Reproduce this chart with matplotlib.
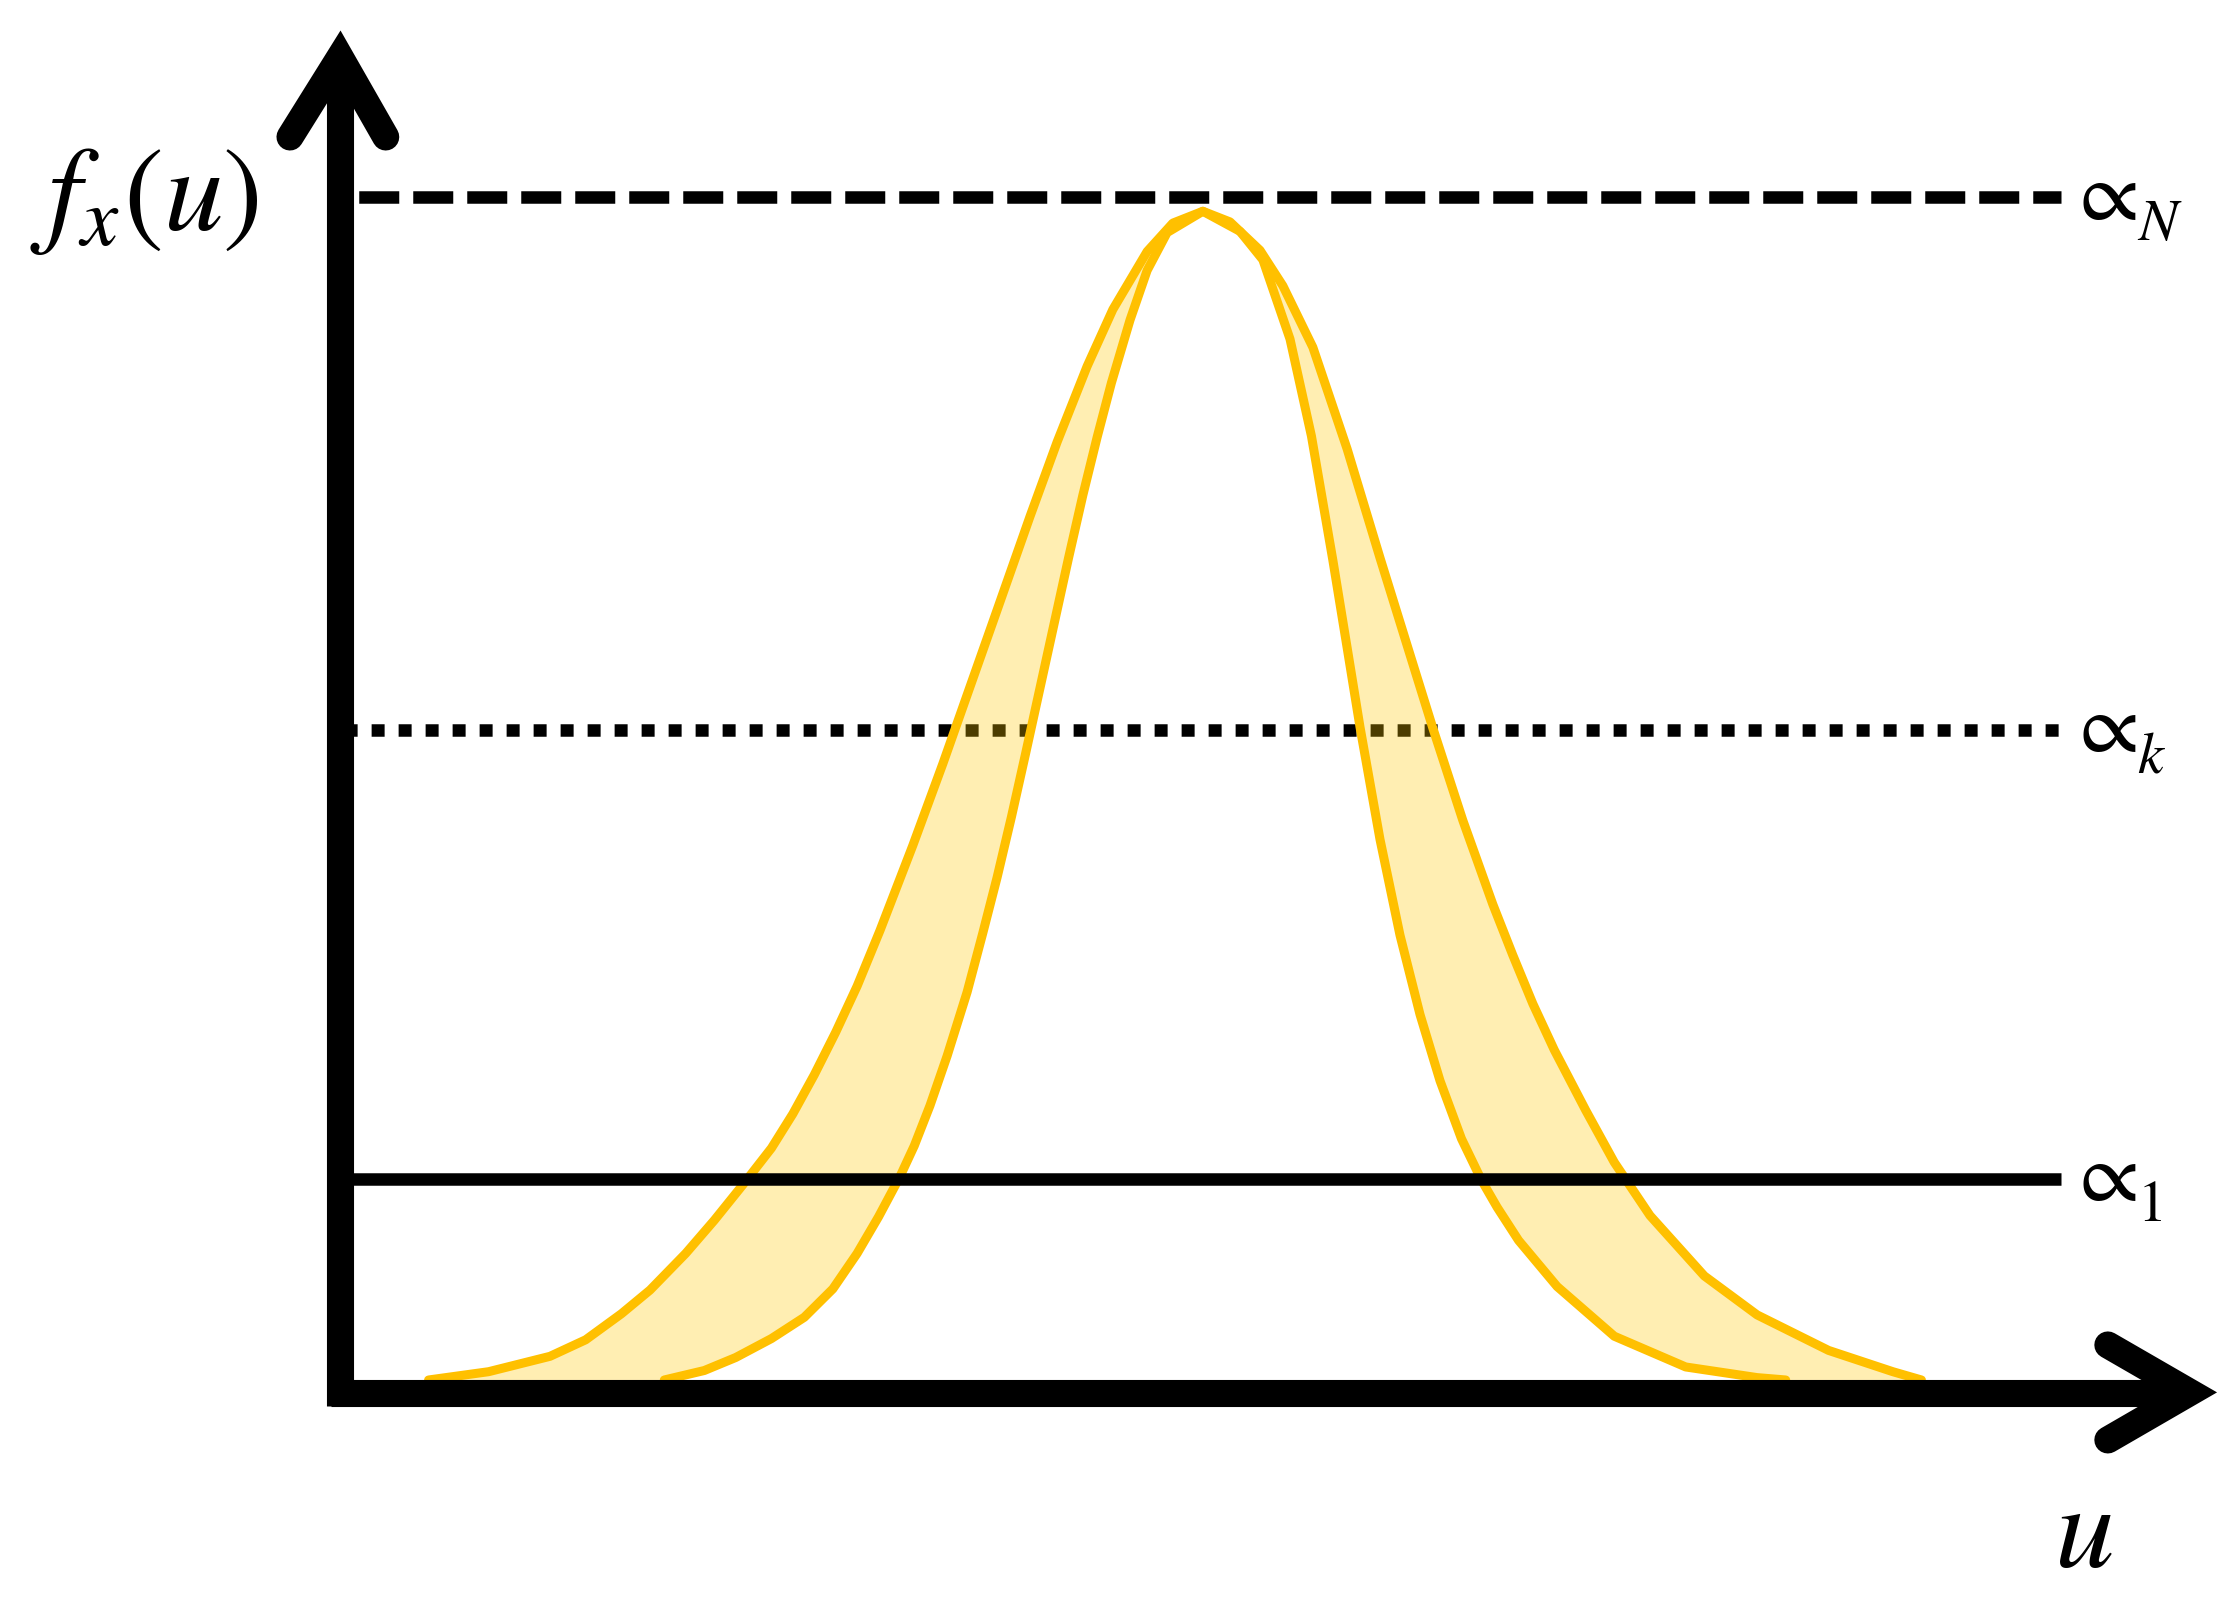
import matplotlib
matplotlib.use("Agg")
import matplotlib.pyplot as plt

plt.rcParams['mathtext.fontset'] = 'stix'

# ---- data ----
# wide density curve (u, f)
wide_u = [0.62, 1.04, 1.47, 1.72, 1.97, 2.17, 2.42, 2.62, 2.82, 3.02, 3.17, 3.32, 3.47,
          3.62, 3.78, 4.01, 4.22, 4.41, 4.60, 4.83, 5.02, 5.23, 5.41, 5.65, 5.83, 6.04,
          6.23, 6.44, 6.60, 6.81, 7.05, 7.28, 7.47, 7.65, 7.86, 8.07, 8.21, 8.35, 8.50,
          8.72, 8.92, 9.17, 9.55, 9.92, 10.42, 10.87, 11.07]
wide_f = [0.000, 0.007, 0.020, 0.034, 0.056, 0.076, 0.107, 0.135, 0.165, 0.196, 0.225, 0.258, 0.294,
          0.333, 0.380, 0.452, 0.521, 0.586, 0.651, 0.730, 0.793, 0.857, 0.905, 0.954, 0.978, 0.988,
          0.979, 0.955, 0.925, 0.873, 0.787, 0.695, 0.621, 0.551, 0.473, 0.402, 0.359, 0.318, 0.279,
          0.228, 0.184, 0.139, 0.088, 0.055, 0.025, 0.007, 0.000]

# narrow density curve (u, f)
narrow_u = [2.27, 2.55, 2.77, 3.02, 3.25, 3.45, 3.62, 3.77, 3.92, 4.02, 4.13, 4.25, 4.39,
            4.50, 4.60, 4.70, 4.80, 4.90, 5.00, 5.10, 5.20, 5.30, 5.40, 5.53, 5.65, 5.79, 6.04,
            6.30, 6.46, 6.65, 6.80, 6.95, 7.05, 7.14, 7.28, 7.42, 7.56, 7.70, 7.85, 7.99,
            8.10, 8.25, 8.52, 8.92, 9.42, 9.92, 10.12]
narrow_f = [0.000, 0.008, 0.019, 0.035, 0.053, 0.077, 0.107, 0.138, 0.172, 0.198, 0.232, 0.274, 0.328,
            0.378, 0.425, 0.476, 0.530, 0.585, 0.640, 0.695, 0.748, 0.797, 0.843, 0.896, 0.938, 0.970, 0.988,
            0.971, 0.947, 0.880, 0.798, 0.693, 0.619, 0.552, 0.457, 0.376, 0.309, 0.253, 0.204, 0.169,
            0.146, 0.118, 0.079, 0.037, 0.011, 0.002, 0.000]

# alpha-cut levels
level_vals = [1.000, 0.5495, 0.170]
level_subs = ["N", "k", "1"]
line_start, line_end = 0.08, 12.05

# ---- figure ----
fig = plt.figure(figsize=(22.4, 16.11), dpi=100)
ax = fig.add_axes([0, 0, 1, 1])
ax.set_xlim(-2.38, 13.30)
ax.set_ylim(-0.1953, 1.1666)
ax.axis("off")

LW = 9.0
# dashed (alpha_N)
ax.plot([line_start, line_end], [level_vals[0]] * 2, color="black", lw=LW,
        linestyle=(3.7, (3.2, 1.12)), dash_capstyle="butt", zorder=2)
# dotted (alpha_k)
ax.plot([line_start, line_end], [level_vals[1]] * 2, color="black", lw=LW,
        linestyle=(0.55, (1.04, 1.12)), dash_capstyle="butt", zorder=2)

# fill between the two curves (semi-transparent, above the dotted line)
poly_u = wide_u + narrow_u[::-1]
poly_f = wide_f + narrow_f[::-1]
ax.fill(poly_u, poly_f, color="#FFC800", alpha=0.3, lw=0, zorder=3)

# curves
for uu, ff in [(wide_u, wide_f), (narrow_u, narrow_f)]:
    ax.plot(uu, ff, color="#FFC000", lw=6.5, solid_joinstyle="round",
            solid_capstyle="round", zorder=4)

# solid line (alpha_1), on top
ax.plot([line_start, line_end], [level_vals[2]] * 2, color="black", lw=LW,
        solid_capstyle="butt", zorder=5)

# axes with arrows
AX_LW = 19.5
ax.plot([0.0, 0.0], [-0.022, 1.10], color="black", lw=AX_LW, solid_capstyle="butt", zorder=6)
ax.plot([-0.35, 0.0, 0.32], [1.0508, 1.1185, 1.0508], color="black", lw=AX_LW,
        solid_capstyle="round", solid_joinstyle="miter", zorder=6)
ax.plot([-0.06, 12.85], [-0.0114, -0.0114], color="black", lw=AX_LW, solid_capstyle="butt", zorder=6)
ax.plot([12.375, 12.95, 12.375], [0.0296, -0.0105, -0.0507], color="black", lw=AX_LW,
        solid_capstyle="round", solid_joinstyle="miter", zorder=6)

# labels
ax.text(-2.17, 0.972, r"$f_x(u)$", fontsize=86, ha="left", va="baseline", zorder=7)
ax.text(12.0, -0.158, r"$u$", fontsize=86, ha="left", va="baseline", zorder=7)
for val, sub in zip(level_vals, level_subs):
    ax.text(12.09, val - 0.019, r"$\propto$", fontsize=62, ha="left", va="baseline", zorder=7)
    ax.text(12.58, val - 0.036, "$" + sub + "$", fontsize=42, ha="left", va="baseline", zorder=7)

fig.savefig("out.png", dpi=100, facecolor="white")
